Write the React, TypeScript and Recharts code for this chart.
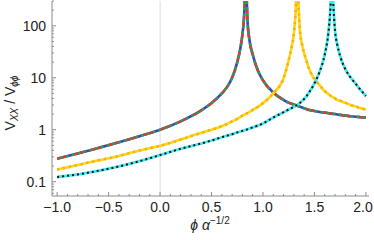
import React from 'react';
import { LineChart, Line, XAxis, YAxis, ReferenceLine } from 'recharts';

// phi * alpha^(-1/2) sample positions (denser near the poles)
const xs = [
  -1.0, -0.8, -0.6, -0.4, -0.2, 0, 0.2, 0.4, 0.5, 0.6, 0.65, 0.7, 0.75, 0.78, 0.8, 0.82, 0.83, 0.835,
  0.84, 0.85, 0.87, 0.9, 0.95, 1.0, 1.1, 1.2, 1.25, 1.28, 1.3, 1.32, 1.33, 1.335, 1.34, 1.36, 1.38,
  1.42, 1.45, 1.5, 1.55, 1.6, 1.63, 1.65, 1.66, 1.67, 1.68, 1.7, 1.72, 1.75, 1.8, 1.85, 1.9, 1.95, 2.0,
];

// V_XX / V_phiphi (null = pole)
const aVals = [
  0.277, 0.348, 0.445, 0.573, 0.75, 1.0, 1.45, 2.35, 3.25, 5.0, 6.6, 10, 20, 37, 68, 215, 900, null,
  450, 120, 51, 28, 13.8, 8.9, 5.2, 3.74, 3.3, 3.16, 3.05, 2.95, 2.92, 2.89, 2.86, 2.77, 2.68,
  2.51, 2.4, 2.29, 2.2, 2.13, 2.09, 2.06, 2.05, 2.04, 2.02, 2.0, 1.97, 1.93, 1.87, 1.82, 1.78, 1.74, 1.71,
];
const bVals = [
  0.171, 0.209, 0.257, 0.313, 0.398, 0.49, 0.646, 0.87, 1.0, 1.17, 1.29, 1.45, 1.62, 1.76, 1.86, 1.95, 2.0, 2.02,
  2.05, 2.09, 2.21, 2.4, 2.75, 3.25, 5.0, 9.8, 22, 40, 72, 270, 1900, null, 380, 77, 43,
  22, 14.4, 9.4, 7.2, 5.5, 4.95, 4.6, 4.45, 4.3, 4.2, 4.0, 3.75, 3.6, 3.3, 3.0, 2.8, 2.6, 2.45,
];
const cVals = [
  0.123, 0.138, 0.162, 0.196, 0.248, 0.325, 0.43, 0.543, 0.62, 0.716, 0.767, 0.82, 0.887, 0.925, 0.95, 0.977, 0.99, 1.0,
  1.005, 1.02, 1.055, 1.11, 1.2, 1.32, 1.72, 2.17, 2.45, 2.63, 2.75, 2.9, 2.98, 3.02, 3.08, 3.3, 3.58,
  4.35, 5.3, 7.8, 13, 28, 60, 150, 330, null, 330, 80, 45, 26, 14.6, 10.2, 7.7, 5.8, 4.45,
];

const xTicks = [
  -1, -0.9, -0.8, -0.7, -0.6, -0.5, -0.4, -0.3, -0.2, -0.1, 0, 0.1, 0.2, 0.3, 0.4, 0.5, 0.6, 0.7, 0.8, 0.9,
  1, 1.1, 1.2, 1.3, 1.4, 1.5, 1.6, 1.7, 1.8, 1.9, 2,
];
const xMajor = [-1, -0.5, 0, 0.5, 1, 1.5, 2];
const yTicks = [
  0.06, 0.07, 0.08, 0.09, 0.1, 0.2, 0.3, 0.4, 0.5, 0.6, 0.7, 0.8, 0.9, 1, 2, 3, 4, 5, 6, 7, 8, 9,
  10, 20, 30, 40, 50, 60, 70, 80, 90, 100, 200, 300,
];
const yMajor = [0.1, 1, 10, 100];
const yLabels = ['0.1', '1', '10', '100'];

const data = xs.map((x, i) => ({ x, a: aVals[i], b: bVals[i], c: cVals[i] }));

const frame = '#8c8c8c';
const font = '"Liberation Sans", Arial, sans-serif';
const W = 374;
const H = 240;

const isXMajor = (v: number) => xMajor.some((m) => Math.abs(m - v) < 1e-6);
const yIndex = (v: number) => yMajor.findIndex((m) => Math.abs(m - v) < 1e-9);
const fmtX = (v: number) => v.toFixed(1).replace('-', '\u2212');

const BottomTick = (props: any) => {
  const { x, y, payload } = props;
  const major = isXMajor(payload.value);
  return (
    <g>
      <line x1={x} y1={y} x2={x} y2={y - (major ? 4 : 2)} stroke={frame} />
      {major && (
        // keep the last label inside the 374px frame
        <text x={Math.min(x, 363)} y={y + 16} textAnchor="middle" fontSize={14} fontFamily={font} fill="#222">
          {fmtX(payload.value)}
        </text>
      )}
    </g>
  );
};

const TopTick = (props: any) => {
  const { x, y, payload } = props;
  const major = isXMajor(payload.value);
  return <line x1={x} y1={y} x2={x} y2={y + (major ? 4 : 2)} stroke={frame} />;
};

const LeftTick = (props: any) => {
  const { x, y, payload } = props;
  const idx = yIndex(payload.value);
  return (
    <g>
      <line x1={x} y1={y} x2={x + (idx >= 0 ? 4 : 2)} y2={y} stroke={frame} />
      {idx >= 0 && (
        <text x={x - 6} y={y + 5} textAnchor="end" fontSize={14} fontFamily={font} fill="#222">
          {yLabels[idx]}
        </text>
      )}
    </g>
  );
};

const RightTick = (props: any) => {
  const { x, y, payload } = props;
  const major = yIndex(payload.value) >= 0;
  return <line x1={x} y1={y} x2={x - (major ? 4 : 2)} y2={y} stroke={frame} />;
};

const lineProps = {
  type: 'monotone' as const,
  dot: false,
  activeDot: false,
  isAnimationActive: false,
  connectNulls: false,
  strokeWidth: 2.6,
};

export default function App() {
  return (
    <div style={{ position: 'absolute', left: 0, top: 0, width: W, height: H, background: '#fff' }}>
      <LineChart width={W} height={H} data={data} margin={{ top: 1, right: 5, bottom: 0, left: 0 }}>
        <XAxis
          dataKey="x"
          type="number"
          domain={[-1.05, 2.03]}
          ticks={xTicks}
          interval={0}
          allowDataOverflow
          height={44}
          tickSize={0}
          tickMargin={0}
          tickLine={false}
          axisLine={{ stroke: frame }}
          tick={BottomTick}
        />
        <XAxis
          xAxisId="top"
          orientation="top"
          dataKey="x"
          type="number"
          domain={[-1.05, 2.03]}
          ticks={xTicks}
          interval={0}
          allowDataOverflow
          height={0}
          tickSize={0}
          tickMargin={0}
          tickLine={false}
          axisLine={{ stroke: frame }}
          tick={TopTick}
        />
        <YAxis
          scale="log"
          domain={[0.053, 300]}
          ticks={yTicks}
          interval={0}
          allowDataOverflow
          width={52}
          tickSize={0}
          tickMargin={0}
          tickLine={false}
          axisLine={{ stroke: frame }}
          tick={LeftTick}
        />
        <YAxis
          yAxisId="right"
          orientation="right"
          scale="log"
          domain={[0.053, 300]}
          ticks={yTicks}
          interval={0}
          allowDataOverflow
          width={0}
          tickSize={0}
          tickMargin={0}
          tickLine={false}
          axisLine={{ stroke: frame }}
          tick={RightTick}
        />
        <ReferenceLine x={0} stroke="#dcdcdc" strokeWidth={1} />

        <Line {...lineProps} dataKey="a" stroke="#3b3bdb" />
        <Line {...lineProps} dataKey="a" stroke="#2f9e44" strokeDasharray="3 3" strokeDashoffset={3} />
        <Line {...lineProps} dataKey="a" stroke="#e03c31" strokeDasharray="3 3 3 9" />

        <Line {...lineProps} dataKey="b" stroke="#ffd700" />
        <Line {...lineProps} dataKey="b" stroke="#f2a93b" strokeDasharray="2 4" />

        <Line {...lineProps} dataKey="c" stroke="#40e8f0" strokeWidth={2.8} />
        <Line {...lineProps} dataKey="c" stroke="#111" strokeWidth={2} strokeDasharray="2 3" />
      </LineChart>

      <svg width={W} height={H} style={{ position: 'absolute', left: 0, top: 0, pointerEvents: 'none' }}>
        <text
          transform="translate(15,103) rotate(-90)"
          textAnchor="middle"
          fontSize={14}
          fontFamily={font}
          fill="#222"
        >
          V
          <tspan fontSize={10} fontStyle="italic" dy={3}>XX</tspan>
          <tspan dy={-3}> / V</tspan>
          <tspan fontSize={10} fontStyle="italic" dy={3}>ϕϕ</tspan>
        </text>
        <text x={210} y={230} textAnchor="middle" fontSize={14} fontFamily={font} fill="#222">
          <tspan fontStyle="italic">ϕ α</tspan>
          <tspan fontSize={10} dy={-6}>−1/2</tspan>
        </text>
      </svg>
    </div>
  );
}
